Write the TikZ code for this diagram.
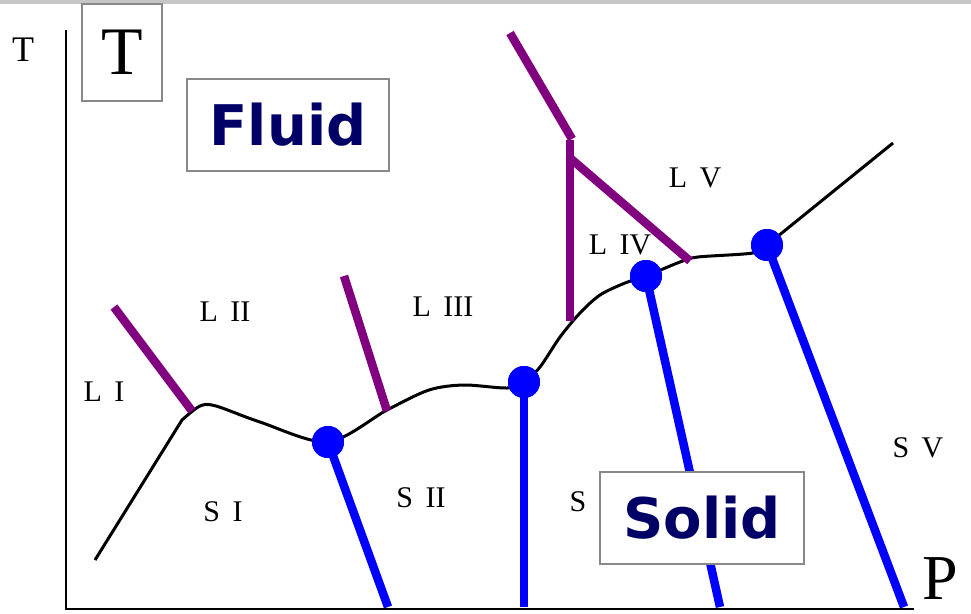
\documentclass[tikz,border=0pt]{standalone}
\usepackage{fontspec}
\setmainfont{Liberation Serif}
\newfontfamily\boxfont{DejaVu Sans}
\usetikzlibrary{positioning}

\definecolor{phasepurple}{RGB}{128,0,128}
\definecolor{phaseblue}{RGB}{0,0,255}
\definecolor{phasenavy}{RGB}{0,0,102}
\definecolor{boxgray}{RGB}{136,136,136}

\begin{document}
\begin{tikzpicture}[x=1pt, y=-1pt,
  region/.style={font=\fontsize{30}{32}\selectfont, inner sep=0pt},
  phasebox/.style={draw=boxgray, line width=1.8pt, fill=white, text=phasenavy,
    font=\boxfont\bfseries\fontsize{56}{60}\selectfont, minimum height=92pt},
  triple/.style={circle, fill=phaseblue, minimum size=32pt, inner sep=0pt},
  solidline/.style={phaseblue, line width=8.5pt},
  liqline/.style={phasepurple, line width=8.5pt}]
  \useasboundingbox (0,0) rectangle (971,613);

  % frame strip at the top
  \fill[gray!45] (0,0) rectangle (971,4);

  % Axes
  \coordinate (ytop) at (66,30);
  \coordinate (origin) at (66,609);
  \coordinate (xend) at (914,609);
  \draw[line width=2.5pt] (ytop) -- (origin) -- (xend);
  \node[font=\fontsize{36}{38}\selectfont, inner sep=0pt] (tsmall) at (23,50) {T};
  \node[draw=boxgray, line width=1.8pt, minimum width=80pt, minimum height=97pt,
    font=\fontsize{68}{70}\selectfont] (tbox) at (122,52.5) {T};
  \node[font=\fontsize{64}{66}\selectfont, inner sep=0pt, anchor=base] (plabel) at (940,599) {P};

  % Melting curve
  \draw[line width=3pt, line join=round]
    (95,560) -- (182,420)
    plot[smooth, tension=0.5] coordinates {(182,420) (200,406) (216,406) (260,422)
      (328,442) (387,410) (429,390) (464,385) (507,388) (524,382) (540,367)
      (560,337) (580,313) (600,295) (625,283) (646,276) (680,262) (698,257)
      (753,253) (767,245)}
    -- (893,143);

  % Liquid-liquid lines
  \coordinate (l1top) at (114,307);
  \coordinate (l1bot) at (192,411);
  \coordinate (l2top) at (344,276);
  \coordinate (l2bot) at (387,411);
  \coordinate (l3top) at (510,33);
  \coordinate (l3knee) at (572,139);
  \coordinate (l3bot) at (570,321);
  \coordinate (l3end) at (690,261);
  \draw[liqline] (l1top) -- (l1bot);
  \draw[liqline] (l2top) -- (l2bot);
  \draw[liqline] (l3top) -- (l3knee);
  \draw[liqline] (570,140) -- (l3bot);
  \draw[liqline] (570,158) -- (l3end);

  % Solid-solid lines
  \coordinate (s1end) at (388,607);
  \coordinate (s2end) at (524,607);
  \coordinate (s3end) at (720,607);
  \coordinate (s4end) at (904,607);
  \node[triple] (tp1) at (328,442) {};
  \node[triple] (tp2) at (524,382) {};
  \node[triple] (tp3) at (646,276) {};
  \node[triple] (tp4) at (767,245) {};
  \draw[solidline] (tp1.center) -- (s1end);
  \draw[solidline] (tp2.center) -- (s2end);
  \draw[solidline] (tp3.center) -- (s3end);
  \draw[solidline] (tp4.center) -- (s4end);
  \foreach \p in {tp1,tp2,tp3,tp4}
    \fill[phaseblue] (\p) circle (16pt);

  % Phase regions
  \node[region] (lI) at (104,392) {L\, I};
  \node[region] (lII) at (225,312) {L\, II};
  \node[region] (lIII) at (443,307) {L\, III};
  \node[region] (lIV) at (620,245) {L\, IV};
  \node[region] (lV) at (695,178) {L\, V};
  \node[region] (sI) at (223,512) {S\, I};
  \node[region] (sII) at (421,498) {S\, II};
  \node[region] (sIII) at (578,502) {S};
  \node[region] (sV) at (918,448) {S\, V};

  % Boxed labels
  \node[phasebox, minimum width=202pt] (fluid) at (288,125) {Fluid};
  \node[phasebox, minimum width=204pt] (solid) at (702,518) {Solid};
\end{tikzpicture}
\end{document}
